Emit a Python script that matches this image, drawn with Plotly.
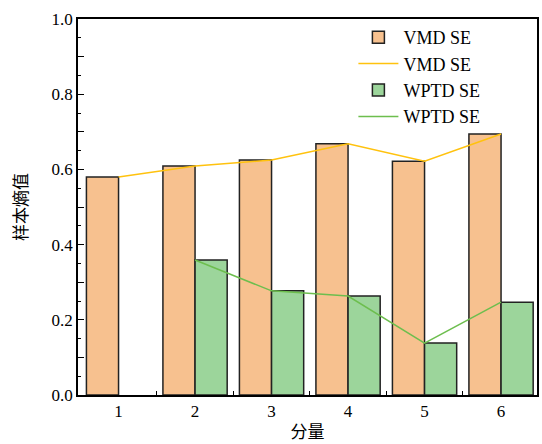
import plotly.graph_objects as go

categories = [1, 2, 3, 4, 5, 6]
vmd_se = [0.580, 0.609, 0.625, 0.668, 0.622, 0.694]
wptd_se = [None, 0.359, 0.277, 0.263, 0.138, 0.247]
y_tickvals = [0.0, 0.1, 0.2, 0.3, 0.4, 0.5, 0.6, 0.7, 0.8, 0.9, 1.0]
y_ticktext = ["0.0", "", "0.2", "", "0.4", "", "0.6", "", "0.8", "", "1.0"]

font_fam = "Liberation Serif, Times New Roman, serif"
cjk_fam = "Noto Sans CJK SC"

fig = go.Figure()
fig.add_trace(go.Bar(x=categories, y=vmd_se, name="VMD SE", width=0.42, offset=-0.42,
                     marker=dict(color="#F7C18F", line=dict(color="#222222", width=1.5))))
fig.add_trace(go.Scatter(x=categories, y=vmd_se, name="VMD SE", mode="lines",
                         line=dict(color="#FFC20E", width=1.5)))
fig.add_trace(go.Bar(x=categories, y=wptd_se, name="WPTD SE", width=0.42, offset=0,
                     marker=dict(color="#9CD59B", line=dict(color="#222222", width=1.5))))
fig.add_trace(go.Scatter(x=categories[1:], y=wptd_se[1:], name="WPTD SE", mode="lines",
                         line=dict(color="#6DBE4E", width=1.5)))

fig.update_layout(
    width=542, height=444,
    margin=dict(l=78, r=3, t=19, b=49),
    plot_bgcolor="white", paper_bgcolor="white",
    barmode="overlay",
    font=dict(family=font_fam, size=17, color="black"),
    legend=dict(x=0.6, y=1.0, xanchor="left", yanchor="top",
                font=dict(family=font_fam, size=18), tracegroupgap=0,
                bgcolor="rgba(0,0,0,0)", itemwidth=40),
    xaxis=dict(range=[0.47, 6.47], tickvals=categories, ticks="", showgrid=False,
               showline=True, linecolor="black", linewidth=1.5, mirror=True,
               zeroline=False, tickfont=dict(family=font_fam, size=17),
               minor=dict(tickvals=[1.5, 2.5, 3.5, 4.5, 5.5], ticks="inside", ticklen=4,
                          tickcolor="black"),
               title=dict(text="分量", standoff=6, font=dict(family=cjk_fam, size=17))),
    yaxis=dict(range=[0, 1.0], tickvals=y_tickvals, ticktext=y_ticktext,
               ticks="inside", ticklen=6, tickcolor="black", showgrid=False,
               showline=True, linecolor="black", linewidth=1.5, mirror=True,
               zeroline=False, tickfont=dict(family=font_fam, size=17),
               minor=dict(dtick=0.05, ticks="inside", ticklen=3, tickcolor="black"),
               title=dict(text="样本熵值", standoff=20, font=dict(family=cjk_fam, size=17))),
)

fig.write_html("out.html")
